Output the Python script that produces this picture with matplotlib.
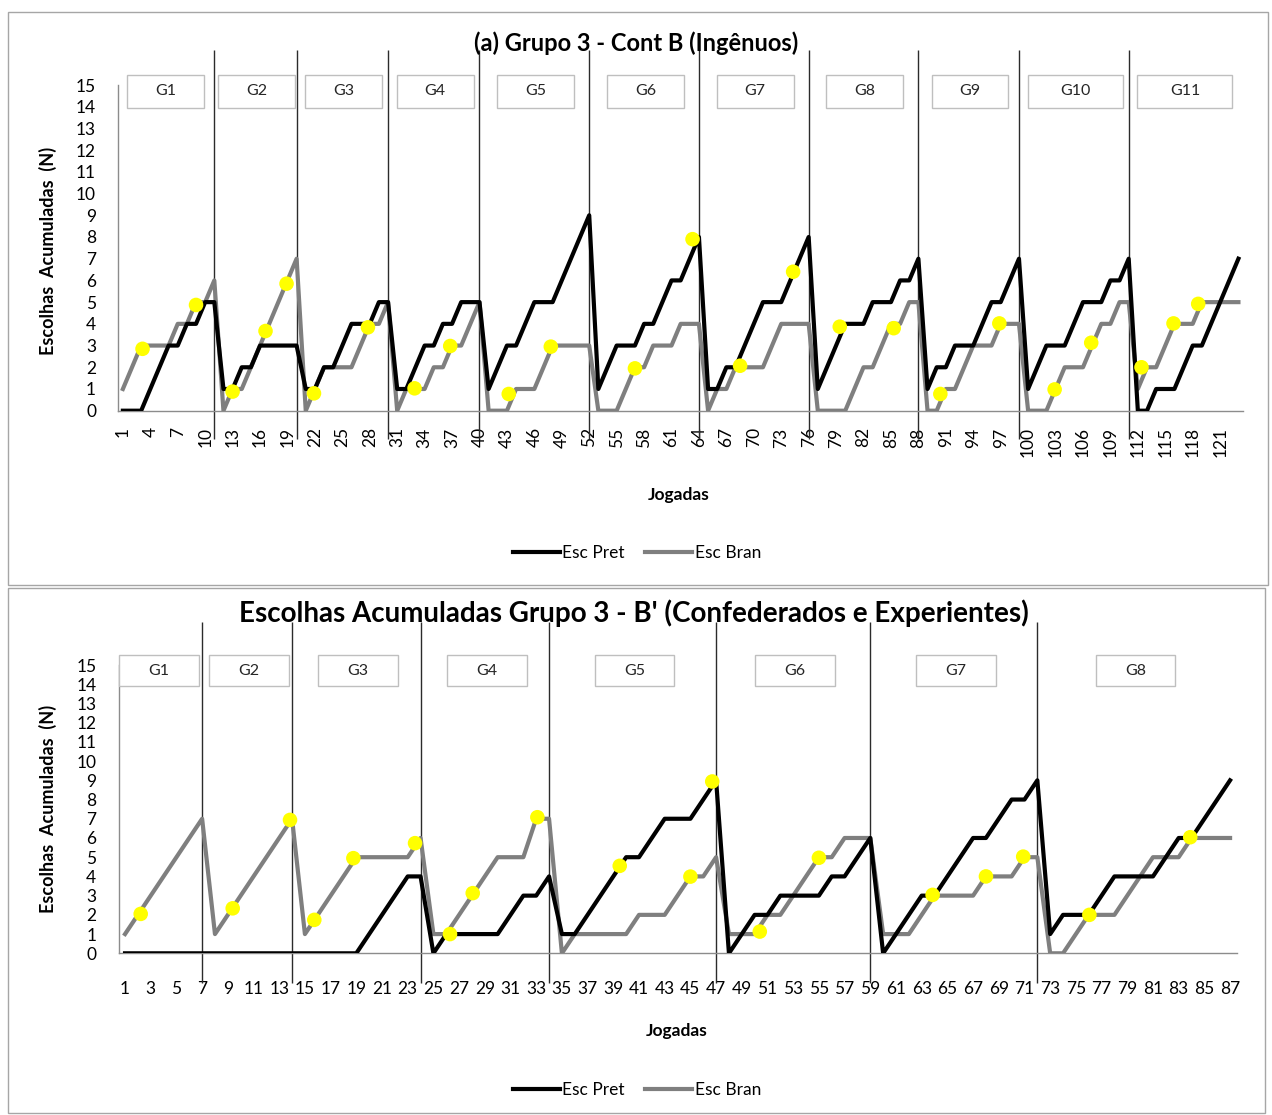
import numpy as np
import matplotlib.pyplot as plt
from matplotlib.patches import Rectangle
from matplotlib.lines import Line2D

plt.rcParams['font.family'] = ['Lato', 'DejaVu Sans']

# ---- painel (a): Grupo 3 - Cont B (Ingenuos), 123 jogadas
topo_tam = [11, 9, 10, 10, 12, 12, 12, 12, 11, 12, 12]   # jogadas por geracao
topo_pret = [0, 0, 0, 1, 2, 3, 3, 4, 4, 5, 5,
             1, 1, 2, 2, 3, 3, 3, 3, 3,
             1, 1, 2, 2, 3, 4, 4, 4, 5, 5,
             1, 1, 2, 3, 3, 4, 4, 5, 5, 5,
             1, 2, 3, 3, 4, 5, 5, 5, 6, 7, 8, 9,
             1, 2, 3, 3, 3, 4, 4, 5, 6, 6, 7, 8,
             1, 1, 2, 2, 3, 4, 5, 5, 5, 6, 7, 8,
             1, 2, 3, 4, 4, 4, 5, 5, 5, 6, 6, 7,
             1, 2, 2, 3, 3, 3, 4, 5, 5, 6, 7,
             1, 2, 3, 3, 3, 4, 5, 5, 5, 6, 6, 7,
             0, 0, 1, 1, 1, 2, 3, 3, 4, 5, 6, 7]
topo_bran = [1, 2, 3, 3, 3, 3, 4, 4, 5, 5, 6,
             0, 1, 1, 2, 3, 4, 5, 6, 7,
             0, 1, 2, 2, 2, 2, 3, 4, 4, 5,
             0, 1, 1, 1, 2, 2, 3, 3, 4, 5,
             0, 0, 0, 1, 1, 1, 2, 3, 3, 3, 3, 3,
             0, 0, 0, 1, 2, 2, 3, 3, 3, 4, 4, 4,
             0, 1, 1, 2, 2, 2, 2, 3, 4, 4, 4, 4,
             0, 0, 0, 0, 1, 2, 2, 3, 4, 4, 5, 5,
             0, 0, 1, 1, 2, 3, 3, 3, 4, 4, 4,
             0, 0, 0, 1, 2, 2, 2, 3, 4, 4, 5, 5,
             1, 2, 2, 3, 4, 4, 4, 5, 5, 5, 5, 5]
# marcadores amarelos (jogada, valor)
topo_mx = [3.15, 9.0, 13.0, 16.6, 18.9, 21.9, 27.8, 32.9, 36.8, 43.2, 47.8, 57.0,
           63.3, 68.5, 74.3, 79.4, 85.3, 90.4, 96.85, 102.9, 106.9, 112.4, 115.9, 118.6]
topo_my = [2.85, 4.87, 0.88, 3.67, 5.85, 0.8, 3.84, 1.03, 2.98, 0.77, 2.95, 1.95,
           7.9, 2.07, 6.4, 3.87, 3.8, 0.77, 4.02, 0.98, 3.13, 2.0, 4.02, 4.92]

# ---- painel B': Confederados e Experientes, 87 jogadas
base_tam = [7, 7, 10, 10, 13, 12, 13, 15]
base_pret = [0, 0, 0, 0, 0, 0, 0,
             0, 0, 0, 0, 0, 0, 0,
             0, 0, 0, 0, 0, 1, 2, 3, 4, 4,
             0, 1, 1, 1, 1, 1, 2, 3, 3, 4,
             1, 1, 2, 3, 4, 5, 5, 6, 7, 7, 7, 8, 9,
             0, 1, 2, 2, 3, 3, 3, 3, 4, 4, 5, 6,
             0, 1, 2, 3, 3, 4, 5, 6, 6, 7, 8, 8, 9,
             1, 2, 2, 2, 3, 4, 4, 4, 4, 5, 6, 6, 7, 8, 9]
base_bran = [1, 2, 3, 4, 5, 6, 7,
             1, 2, 3, 4, 5, 6, 7,
             1, 2, 3, 4, 5, 5, 5, 5, 5, 6,
             1, 1, 2, 3, 4, 5, 5, 5, 7, 7,
             0, 1, 1, 1, 1, 1, 2, 2, 2, 3, 4, 4, 5,
             1, 1, 1, 2, 2, 3, 4, 5, 5, 6, 6, 6,
             1, 1, 1, 2, 3, 3, 3, 3, 4, 4, 4, 5, 5,
             0, 0, 1, 2, 2, 2, 3, 4, 5, 5, 5, 6, 6, 6, 6]
base_mx = [2.22, 9.38, 13.84, 15.73, 18.77, 23.57, 26.29, 28.06, 33.09, 39.5,
           45.0, 46.7, 50.4, 55.0, 63.85, 68.0, 70.9, 76.05, 83.9]
base_my = [2.05, 2.34, 6.94, 1.74, 4.95, 5.73, 1.0, 3.13, 7.08, 4.55,
           3.99, 8.94, 1.13, 4.97, 3.04, 4.0, 5.03, 2.0, 6.04]

W, H = 1272, 1115
fig = plt.figure(figsize=(W / 100, H / 100), dpi=100)


def fx(px):
    return px / W


def fy(py):
    return 1 - py / H


def painel(ax, pret, bran, tamanhos, mx, my, passo, rot, larguras, caixa_y, linha_y, xpad):
    n = len(pret)
    x = np.arange(1, n + 1)
    ax.plot(x, bran, color='#7f7f7f', lw=3, zorder=3)
    ax.plot(x, pret, color='black', lw=3, zorder=4)
    ax.scatter(mx, my, s=110, color='#ffff00', edgecolors='none', zorder=6)

    fins = np.cumsum(tamanhos)
    inicios = fins - np.array(tamanhos) + 1
    ax.vlines(fins[:-1], linha_y[0], linha_y[1], colors='#2b2b2b', lw=1.0,
              zorder=2, clip_on=False)
    for i, (a, b) in enumerate(zip(inicios, fins)):
        c = (a + b) / 2 - 0.35
        w = larguras[i]
        ax.add_patch(Rectangle((c - w / 2, caixa_y[0]), w, caixa_y[1] - caixa_y[0],
                               fc='white', ec='#bfbfbf', lw=1.0, clip_on=False, zorder=5))
        ax.text(c, sum(caixa_y) / 2, 'G%d' % (i + 1), ha='center', va='center',
                fontsize=11.5, color='#262626', zorder=6)

    ax.set_xlim(0.5, n + 0.5)
    ax.set_ylim(0, 15)
    ax.set_yticks(range(0, 16))
    ax.set_xticks(range(1, n + 1, passo))
    ax.tick_params(axis='y', length=0, pad=16, labelsize=12.5)
    ax.tick_params(axis='x', length=0, pad=xpad, labelsize=12.5, labelrotation=rot)
    for s in ['top', 'right']:
        ax.spines[s].set_visible(False)
    for s in ['left', 'bottom']:
        ax.spines[s].set_color('#8c8c8c')
        ax.spines[s].set_linewidth(1.0)


ax1 = fig.add_axes([fx(118.3), fy(410.7), fx(1243 - 118.3), (410.7 - 85) / H])
painel(ax1, topo_pret, topo_bran, topo_tam, topo_mx, topo_my, 3, 90,
       [8.4] * 9 + [10.4, 10.4], (13.95, 15.47), (-1.3, 16.6), 12)

ax2 = fig.add_axes([fx(118.6), fy(953.3), fx(1236.5 - 118.6), (953.3 - 665) / H])
painel(ax2, base_pret, base_bran, base_tam, base_mx, base_my, 2, 0,
       [6.2] * 8, (13.9, 15.5), (-1.55, 17.25), 20)

# titulos e rotulos
fig.text(fx(636), fy(43), '(a) Grupo 3 - Cont B (Ingênuos)', ha='center', va='center',
         fontsize=17, fontweight='bold')
fig.text(fx(634), fy(613), "Escolhas Acumuladas Grupo 3 - B' (Confederados e Experientes)",
         ha='center', va='center', fontsize=20, fontweight='bold')
for yy in [251, 809]:
    fig.text(fx(48), fy(yy), 'Escolhas  Acumuladas  (N)', rotation=90, ha='center',
             va='center', fontsize=13, fontweight='bold')
fig.text(fx(679), fy(495), 'Jogadas', ha='center', va='center', fontsize=12.5, fontweight='bold')
fig.text(fx(677), fy(1031), 'Jogadas', ha='center', va='center', fontsize=12.5, fontweight='bold')

handles = [Line2D([], [], color='black', lw=3, label='Esc Pret'),
           Line2D([], [], color='#7f7f7f', lw=3, label='Esc Bran')]
for ax, yy in [(ax1, 553), (ax2, 1090)]:
    ax.legend(handles=handles, loc='center', bbox_to_anchor=(fx(637), fy(yy)),
              bbox_transform=fig.transFigure, ncol=2, frameon=False, fontsize=12.5,
              handlelength=2.7, handletextpad=0.15, columnspacing=1.2)

# molduras dos dois graficos
fig.add_artist(Rectangle((fx(8), fy(585)), fx(1260), (585 - 12) / H, transform=fig.transFigure,
                         fill=False, ec='#a6a6a6', lw=1.0))
fig.add_artist(Rectangle((fx(8), fy(1113)), fx(1257), (1113 - 588) / H, transform=fig.transFigure,
                         fill=False, ec='#a6a6a6', lw=1.0))

fig.savefig('out.png', dpi=100)
